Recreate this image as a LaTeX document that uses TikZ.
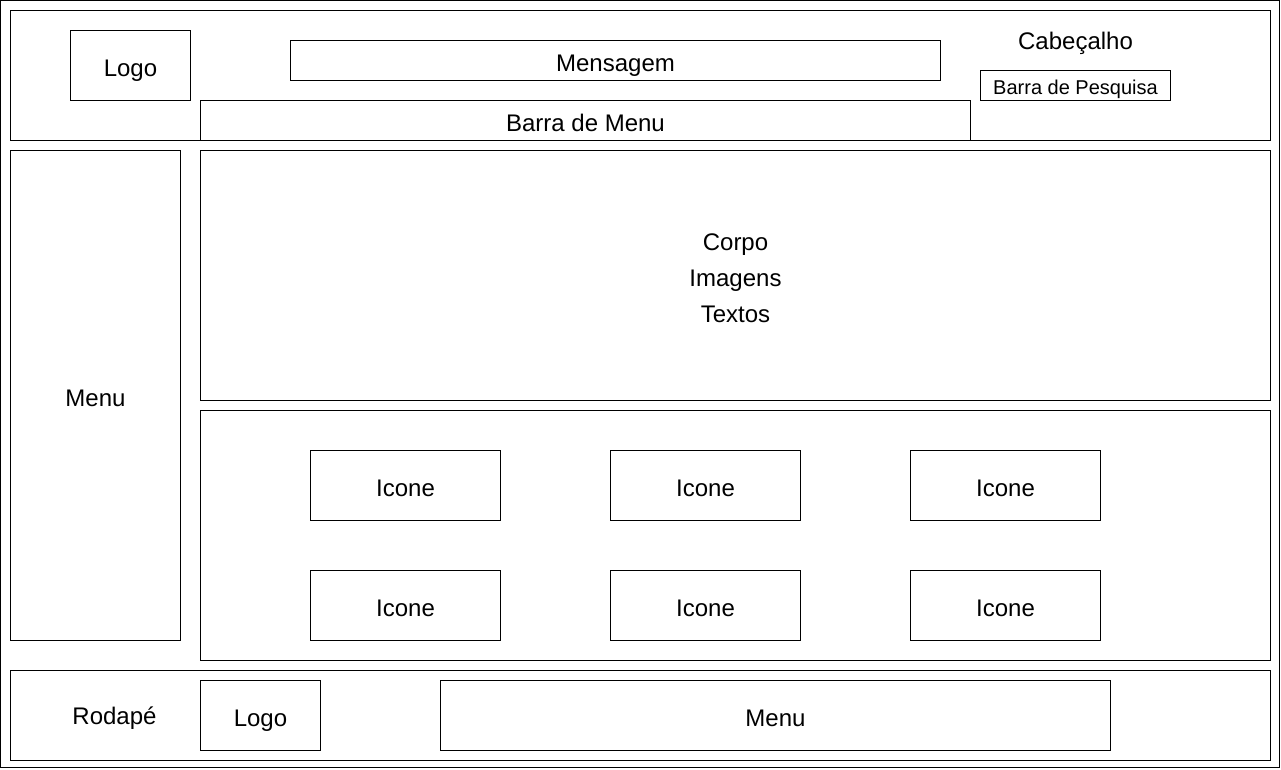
\documentclass[tikz,border=0pt]{standalone}
\usepackage{fontspec}
\setmainfont{Liberation Sans}
\usetikzlibrary{positioning}

\begin{document}
\begin{tikzpicture}[x=1pt,y=-1pt,node distance=0pt,outer sep=0pt,line width=1pt]
    \tikzstyle{caixa} = [anchor=north west, rectangle, draw=black, inner sep=0pt, align=center, text height=28pt, text depth=6pt, font=\fontsize{24}{36}\selectfont]
    \tikzstyle{icone} = [caixa, minimum width=190pt, minimum height=70pt]
    \tikzstyle{rotulo} = [anchor=base, inner sep=0pt, font=\fontsize{24}{29}\selectfont]
    \useasboundingbox (0,0) rectangle (1281,769);
    \node (pagina)  [caixa, minimum width=1279pt, minimum height=767pt] at (0.5,0.5) {};
    % cabecalho
    \node (cab)     [caixa, minimum width=1260pt, minimum height=130pt] at (10.5,10.5) {};
    \node (tcab)    [rotulo] at (1075.5,49) {Cabeçalho};
    \node (logo1)   [caixa, minimum width=120pt, minimum height=70pt] at (70.5,30.5) {Logo};
    \node (msg)     [caixa, minimum width=650pt, minimum height=40pt] at (290.5,40.5) {Mensagem};
    \node (barra)   [caixa, minimum width=770pt, minimum height=40pt] at (200.5,100.5) {Barra de Menu};
    \node (pesq)    [caixa, minimum width=190pt, minimum height=30pt, text height=24pt, font=\fontsize{20}{24}\selectfont] at (980.5,70.5) {Barra de Pesquisa};
    % lateral e corpo
    \node (menu1)   [caixa, minimum width=170pt, minimum height=490pt] at (10.5,150.5) {Menu};
    \node (corpo)   [caixa, minimum width=1070pt, minimum height=250pt, text height=93.5pt, text depth={}] at (200.5,150.5) {Corpo\\Imagens\\Textos};
    \node (icones)  [caixa, minimum width=1070pt, minimum height=250pt] at (200.5,410.5) {};
    \node (i1)      [icone] at (310.5,450.5) {Icone};
    \node (i2)      [icone, right=110pt of i1] {Icone};
    \node (i3)      [icone, right=110pt of i2] {Icone};
    \node (i4)      [icone, below=50pt of i1] {Icone};
    \node (i5)      [icone, right=110pt of i4] {Icone};
    \node (i6)      [icone, right=110pt of i5] {Icone};
    % rodape
    \node (rod)     [caixa, minimum width=1260pt, minimum height=90pt] at (10.5,670.5) {};
    \node (trod)    [rotulo] at (114.5,724.3) {Rodapé};
    \node (logo2)   [caixa, minimum width=120pt, minimum height=70pt] at (200.5,680.5) {Logo};
    \node (menu2)   [caixa, minimum width=670pt, minimum height=70pt] at (440.5,680.5) {Menu};
\end{tikzpicture}
\end{document}
